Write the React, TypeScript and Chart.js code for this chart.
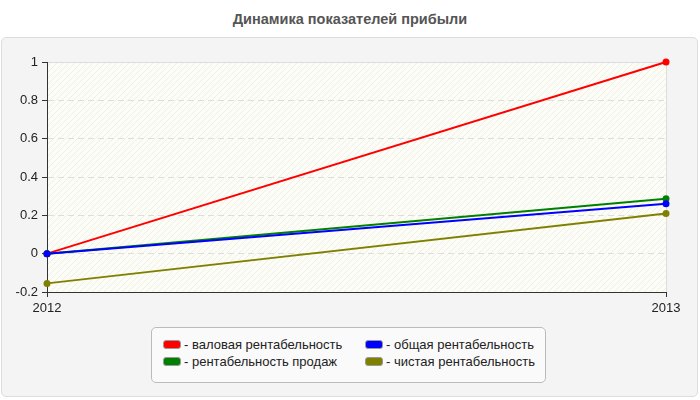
import { useEffect, useRef } from "react";
import { Chart, registerables } from "chart.js";

Chart.register(...registerables);

const title = "Динамика показателей прибыли";
const years = ["2012", "2013"];
const grossMargin = [0, 1];
const salesMargin = [0, 0.287];
const totalMargin = [0, 0.26];
const netMargin = [-0.155, 0.21];
const yMin = -0.2;
const yMax = 1;
const yStep = 0.2;

const seriesLabels = [
  "валовая рентабельность",
  "рентабельность продаж",
  "общая рентабельность",
  "чистая рентабельность",
];
const seriesColors = ["#ff0000", "#008000", "#0000ff", "#808000"];
const seriesData = [grossMargin, salesMargin, totalMargin, netMargin];
// blue sits on top of green and red where they meet
const drawOrder = [3, 2, 0, 1];

const FONT = "'Liberation Sans', Arial, sans-serif";

// hatched plot background
const plotBg = {
  id: "plotBg",
  beforeDraw(chart: Chart) {
    const { ctx, chartArea } = chart;
    if (!chartArea) return;
    const p = document.createElement("canvas");
    p.width = 6;
    p.height = 6;
    const pc = p.getContext("2d")!;
    pc.fillStyle = "#fdfdf8";
    pc.fillRect(0, 0, 6, 6);
    pc.strokeStyle = "#efefe8";
    pc.lineWidth = 1;
    pc.beginPath();
    pc.moveTo(0, 6);
    pc.lineTo(6, 0);
    pc.moveTo(-3, 3);
    pc.lineTo(3, -3);
    pc.moveTo(3, 9);
    pc.lineTo(9, 3);
    pc.stroke();
    ctx.save();
    ctx.fillStyle = ctx.createPattern(p, "repeat")!;
    ctx.fillRect(chartArea.left, chartArea.top, chartArea.right - chartArea.left, chartArea.bottom - chartArea.top);
    ctx.restore();
  },
};

export default function App() {
  const canvasRef = useRef<HTMLCanvasElement>(null);

  useEffect(() => {
    const canvas = canvasRef.current;
    if (!canvas) return;
    const chart = new Chart(canvas, {
      type: "line",
      data: {
        labels: years,
        datasets: seriesData.map((d, i) => ({
          label: seriesLabels[i],
          data: d,
          order: drawOrder[i],
          borderColor: seriesColors[i],
          backgroundColor: seriesColors[i],
          borderWidth: 2,
          pointRadius: 3.5,
          pointBorderWidth: 0,
          tension: 0,
          clip: false as any,
        })),
      },
      options: {
        animation: false,
        responsive: false,
        maintainAspectRatio: false,
        layout: { padding: { top: 62, right: 34, left: 0, bottom: 84 } },
        plugins: {
          legend: { display: false },
          title: { display: false },
          tooltip: { enabled: false },
        },
        scales: {
          x: {
            offset: false,
            afterFit: (s: any) => {
              s.height = 24;
            },
            grid: {
              color: "#dddddd",
              tickColor: "#333333",
              tickLength: 5,
            },
            border: { color: "#333333", width: 1 },
            ticks: {
              color: "#222222",
              padding: 4,
              maxRotation: 0,
              font: { family: FONT, size: 13 },
            },
          },
          y: {
            min: yMin,
            max: yMax,
            afterFit: (s: any) => {
              s.width = 47;
            },
            grid: {
              color: "#dddddd",
              tickColor: "#333333",
              tickLength: 5,
            },
            border: {
              color: "#333333",
              width: 1,
              dash: (ctx: any) => (ctx.tick && Math.abs(ctx.tick.value - yMax) < 1e-9 ? [] : [6, 4]),
            },
            ticks: {
              stepSize: yStep,
              color: "#222222",
              padding: 4,
              font: { family: FONT, size: 13 },
              callback: (v: any) => String(Number(Number(v).toFixed(1))),
            },
          },
        },
      },
      plugins: [plotBg],
    });
    return () => chart.destroy();
  }, []);

  // legend laid out column-first: 2 rows x 2 columns
  return (
    <div
      style={{
        position: "fixed",
        left: 0,
        top: 0,
        width: 700,
        height: 400,
        background: "#ffffff",
        fontFamily: FONT,
        overflow: "hidden",
      }}
    >
      <div
        style={{
          position: "absolute",
          top: 11,
          left: 0,
          width: 700,
          textAlign: "center",
          fontWeight: 700,
          fontSize: 14.5,
          color: "#555555",
        }}
      >
        {title}
      </div>
      <div
        style={{
          position: "absolute",
          left: 1,
          top: 37,
          width: 695,
          height: 358,
          border: "1px solid #dddddd",
          borderRadius: 5,
          background: "#f4f4f4",
        }}
      />
      <canvas
        ref={canvasRef}
        width={700}
        height={400}
        style={{ position: "absolute", left: 0, top: 0, width: 700, height: 400 }}
      />
      <div
        style={{
          position: "absolute",
          left: 151,
          top: 327,
          width: 393,
          height: 54,
          border: "1px solid #bbbbbb",
          borderRadius: 5,
          background: "#fafafa",
        }}
      >
        {seriesLabels.map((label, i) => (
          <div
            key={label}
            style={{
              position: "absolute",
              left: i < 2 ? 11 : 213,
              top: i % 2 === 0 ? 8 : 25,
              height: 16,
              display: "flex",
              alignItems: "center",
              fontSize: 13,
              color: "#222222",
              whiteSpace: "nowrap",
            }}
          >
            <span
              style={{
                display: "inline-block",
                width: 16,
                height: 7,
                borderRadius: 3,
                background: seriesColors[i],
                border: "1px solid #999999",
                marginRight: 3,
              }}
            />
            - {label}
          </div>
        ))}
      </div>
    </div>
  );
}
